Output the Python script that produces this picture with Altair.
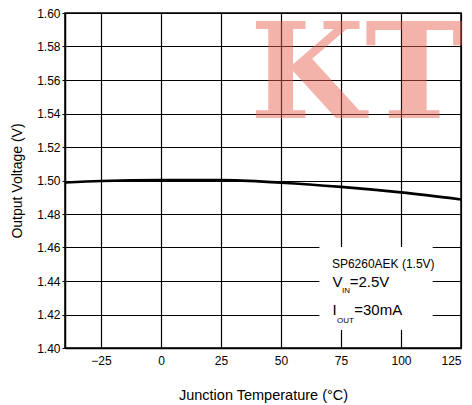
import altair as alt
import pandas as pd

# ---- data ----
temps = [-40, -25, 0, 25, 50, 75, 100, 125]
volts = [1.4988, 1.4997, 1.5002, 1.5002, 1.4987, 1.4962, 1.4929, 1.4887]
x_ticks = [-25, 0, 25, 50, 75, 100, 125]
y_ticks = [1.40, 1.42, 1.44, 1.46, 1.48, 1.50, 1.52, 1.54, 1.56, 1.58, 1.60]
x_domain = [-40, 125]
y_domain = [1.40, 1.60]

# annotation box (data coords) and its texts
box = pd.DataFrame({"x": [66.0], "x2": [113.2], "y": [1.4603], "y2": [1.4107]})
labels_main = pd.DataFrame({
    "x": [71.2, 71.5, 78.6, 71.5, 80.5],
    "y": [1.4476, 1.4362, 1.4362, 1.4197, 1.4197],
    "t": ["SP6260AEK (1.5V)", "V", "=2.5V", "I", "=30mA"],
    "s": [12, 15, 15, 15, 15],
})
labels_sub = pd.DataFrame({
    "x": [75.4, 73.3],
    "y": [1.4330, 1.4150],
    "t": ["IN", "OUT"],
})
watermark = pd.DataFrame({"x": [37.0, 85.0], "y": [1.5373, 1.5373], "t": ["K", "T"]})

df = pd.DataFrame({"temp": temps, "volt": volts})

xs = alt.Scale(domain=x_domain, nice=False, zero=False)
ys = alt.Scale(domain=y_domain, nice=False, zero=False)

FONT = "Liberation Sans"

line = alt.Chart(df).mark_line(color="black", strokeWidth=2.6, interpolate="monotone").encode(
    x=alt.X("temp:Q", scale=xs, axis=alt.Axis(
        values=x_ticks, tickCount=20, title="Junction Temperature (°C)", grid=True, gridColor="black",
        gridWidth=1.2, gridOpacity=1, domainColor="black", domainWidth=1.5, ticks=False,
        labelPadding=7, labelFontSize=12, labelColor="black", labelFont=FONT,
        labelOverlap=False,
        titleFont=FONT, titleFontSize=14.5, titleFontWeight="normal", titleColor="black",
        titlePadding=22)),
    y=alt.Y("volt:Q", scale=ys, axis=alt.Axis(
        values=y_ticks, tickCount=20, format=".2f", title="Output Voltage (V)", grid=True, gridColor="black",
        gridWidth=1.2, gridOpacity=1, domainColor="black", domainWidth=1.5,
        ticks=True, tickSize=3, tickColor="black", labelOverlap=False,
        labelPadding=2, labelFontSize=12, labelColor="black", labelFont=FONT,
        titleFont=FONT, titleFontSize=14, titleFontWeight="normal", titleColor="black",
        titlePadding=12)),
)

rect = alt.Chart(box).mark_rect(fill="white").encode(
    x=alt.X("x:Q", scale=xs), x2="x2:Q",
    y=alt.Y("y:Q", scale=ys), y2="y2:Q")

txt = alt.Chart(labels_main).mark_text(align="left", baseline="alphabetic", font=FONT, color="black").encode(
    x=alt.X("x:Q", scale=xs), y=alt.Y("y:Q", scale=ys), text="t:N",
    size=alt.Size("s:Q", scale=None, legend=None))

sub = alt.Chart(labels_sub).mark_text(align="left", baseline="alphabetic", font=FONT, fontSize=8, color="black").encode(
    x=alt.X("x:Q", scale=xs), y=alt.Y("y:Q", scale=ys), text="t:N")

wm = alt.Chart(watermark).mark_text(align="left", baseline="alphabetic", font="DejaVu Serif",
                                    fontWeight="bold", fontSize=132, color="#e8604f", opacity=0.48).encode(
    x=alt.X("x:Q", scale=xs), y=alt.Y("y:Q", scale=ys), text="t:N")

chart = alt.layer(line, rect, txt, sub, wm).properties(
    width=396, height=335,
    autosize=alt.AutoSizeParams(type="none"),
    padding={"left": 57, "top": 5, "right": 3, "bottom": 56},
).configure_view(stroke="black", strokeWidth=1.5)

chart.save("out.html", embed_options={"renderer": "svg", "actions": False})
